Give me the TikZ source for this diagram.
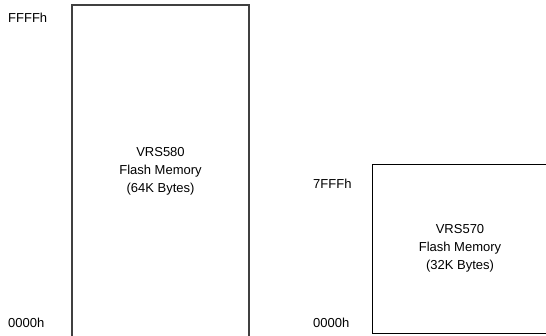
\documentclass[tikz,border=0pt]{standalone}
\usepackage{fontspec}
\setmainfont{Liberation Sans}
\begin{document}
\begin{tikzpicture}[x=1pt,y=-1pt,
  membox/.style={draw=black,line width=1pt,inner sep=0pt,align=center,
    font=\fontsize{13}{18}\selectfont},
  addr/.style={inner sep=0pt,font=\fontsize{13}{18}\selectfont}]
\useasboundingbox (0,0) rectangle (546,335);
\clip (0,0) rectangle (546,335);
\node[membox,draw=black!75,line width=1.3pt,minimum width=177pt,minimum height=333pt] (m580) at (160.5,171.5)
  {VRS580\\Flash Memory\\(64K Bytes)};
\node[membox,minimum width=176pt,minimum height=168.5pt] (m570) at (460,248.75)
  {VRS570\\Flash Memory\\(32K Bytes)};
\node[addr,anchor=west] (a1) at (8,18) {FFFFh};
\node[addr,anchor=west] (a2) at (8,323) {0000h};
\node[addr,anchor=west] (a3) at (313,184) {7FFFh};
\node[addr,anchor=west] (a4) at (313,323) {0000h};
\end{tikzpicture}
\end{document}
